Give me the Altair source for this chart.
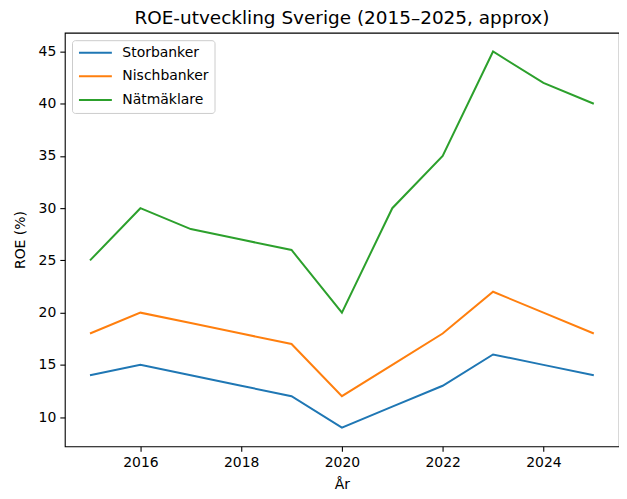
import altair as alt
import pandas as pd

years = list(range(2015, 2026))
storbanker = [14, 15, 14, 13, 12, 9, 11, 13, 16, 15, 14]
nischbanker = [18, 20, 19, 18, 17, 12, 15, 18, 22, 20, 18]
natmaklare = [25, 30, 28, 27, 26, 20, 30, 35, 45, 42, 40]
series = ["Storbanker", "Nischbanker", "Nätmäklare"]
colors = ["#1f77b4", "#ff7f0e", "#2ca02c"]
x_ticks = [2016, 2018, 2020, 2022, 2024]
y_ticks = [10, 15, 20, 25, 30, 35, 40, 45]

rows = []
for name, vals in zip(series, [storbanker, nischbanker, natmaklare]):
    for yr, v in zip(years, vals):
        rows.append({"year": yr, "roe": v, "serie": name})
df = pd.DataFrame(rows)

FONT = "DejaVu Sans"

chart = alt.Chart(df).mark_line(strokeWidth=2).encode(
    x=alt.X("year:Q",
            scale=alt.Scale(domain=[2014.5, 2025.5], nice=False, zero=False),
            axis=alt.Axis(values=x_ticks, format="d", title="År")),
    y=alt.Y("roe:Q",
            scale=alt.Scale(domain=[7.2, 46.8], nice=False, zero=False),
            axis=alt.Axis(values=y_ticks, title="ROE (%)")),
    color=alt.Color("serie:N",
                    scale=alt.Scale(domain=series, range=colors),
                    legend=alt.Legend(title=None, orient="none", legendX=7.2, legendY=7.5,
                                      symbolType="M-1,0H5", symbolSize=121,
                                      symbolStrokeWidth=2, labelOffset=31,
                                      labelFontSize=14, labelFont=FONT, labelColor="#000",
                                      padding=5.5, rowPadding=9.8,
                                      strokeColor="#cccccc", fillColor="rgba(255,255,255,0.8)",
                                      cornerRadius=3)),
    detail="serie:N",
).properties(
    width=556, height=415,
    title=alt.TitleParams("ROE-utveckling Sverige (2015–2025, approx)", fontSize=18.5,
                          font=FONT, fontWeight="normal", color="#000",
                          offset=5.5, anchor="middle"),
    autosize=alt.AutoSizeParams(type="none"),
    padding={"left": 57, "top": 24, "right": 0, "bottom": 44},
).configure_view(
    stroke="#000", strokeWidth=1.1
).configure_axis(
    grid=False, domain=False, ticks=True, tickSize=5, tickColor="#000", tickWidth=1.1,
    labelFont=FONT, labelFontSize=14, labelColor="#000", labelPadding=4,
    titleFont=FONT, titleFontSize=14, titleColor="#000", titleFontWeight="normal",
).configure_axisX(titlePadding=8).configure_axisY(titlePadding=11)

chart.save("out.html", embed_options={"renderer": "svg", "actions": False})
